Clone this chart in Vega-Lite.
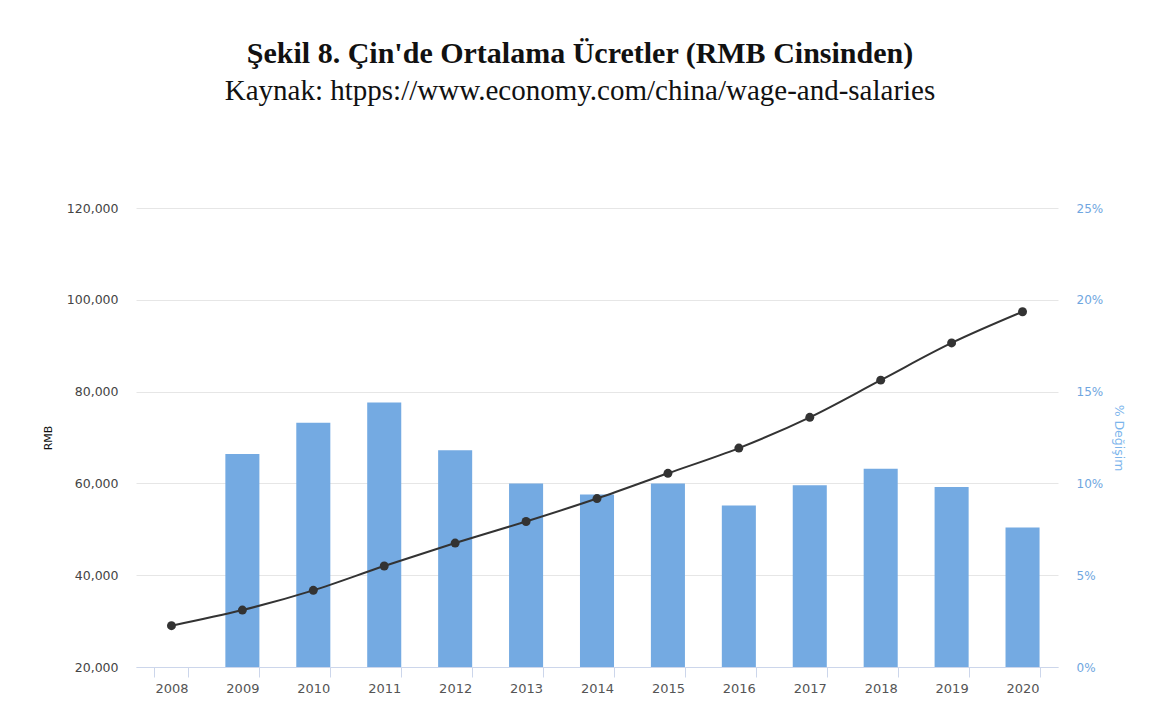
{
  "$schema": "https://vega.github.io/schema/vega-lite/v6.json",
  "width": 922,
  "height": 459,
  "autosize": {"type": "none"},
  "padding": {"left": 136, "top": 208, "right": 104, "bottom": 50},
  "background": "white",
  "title": {
    "text": "Şekil 8. Çin'de Ortalama Ücretler (RMB Cinsinden)",
    "subtitle": "Kaynak: htpps://www.economy.com/china/wage-and-salaries",
    "font": "Liberation Serif",
    "fontSize": 30,
    "fontWeight": "bold",
    "color": "#111111",
    "subtitleFont": "Liberation Serif",
    "subtitleFontSize": 29,
    "subtitleColor": "#111111",
    "subtitlePadding": 8,
    "anchor": "middle",
    "dx": -17,
    "offset": 96
  },
  "data": {
    "values": [
      {"year": "2008", "rmb": 29000, "pct": null},
      {"year": "2009", "rmb": 32400, "pct": 11.6},
      {"year": "2010", "rmb": 36700, "pct": 13.3},
      {"year": "2011", "rmb": 42000, "pct": 14.4},
      {"year": "2012", "rmb": 47000, "pct": 11.8},
      {"year": "2013", "rmb": 51700, "pct": 10.0},
      {"year": "2014", "rmb": 56700, "pct": 9.4},
      {"year": "2015", "rmb": 62200, "pct": 10.0},
      {"year": "2016", "rmb": 67700, "pct": 8.8},
      {"year": "2017", "rmb": 74400, "pct": 9.9},
      {"year": "2018", "rmb": 82500, "pct": 10.8},
      {"year": "2019", "rmb": 90600, "pct": 9.8},
      {"year": "2020", "rmb": 97400, "pct": 7.6}
    ]
  },
  "encoding": {
    "x": {
      "field": "year",
      "type": "ordinal",
      "scale": {"paddingInner": 0.52, "paddingOuter": 0.26},
      "axis": {
        "title": null,
        "labelAngle": 0,
        "labelFont": "DejaVu Sans",
        "labelFontSize": 13,
        "labelColor": "#555555",
        "labelPadding": 5,
        "domainColor": "#ccd6eb",
        "tickColor": "#ccd6eb",
        "tickSize": 10,
        "tickBand": "extent",
        "grid": false
      }
    }
  },
  "layer": [
    {
      "mark": {"type": "bar", "color": "#74aae2"},
      "encoding": {
        "y": {
          "field": "pct",
          "type": "quantitative",
          "scale": {"domain": [0, 25], "nice": false},
          "axis": {
            "orient": "right",
            "title": "% Değişim",
            "titleFont": "DejaVu Sans",
            "titleFontSize": 12.5,
            "titleFontWeight": "normal",
            "titleColor": "#7cb5ec",
            "titleAngle": 90,
            "titlePadding": 9,
            "values": [0, 5, 10, 15, 20, 25],
            "labelExpr": "datum.value + '%'",
            "labelFont": "DejaVu Sans",
            "labelFontSize": 12,
            "labelColor": "#6fa6e0",
            "labelPadding": 18,
            "domain": false,
            "ticks": false,
            "grid": false
          }
        }
      }
    },
    {
      "mark": {
        "type": "line",
        "color": "#333333",
        "strokeWidth": 2,
        "interpolate": "monotone",
        "point": {"filled": true, "color": "#333333", "size": 80, "opacity": 1}
      },
      "encoding": {
        "y": {
          "field": "rmb",
          "type": "quantitative",
          "scale": {"domain": [20000, 120000], "nice": false},
          "axis": {
            "orient": "left",
            "title": "RMB",
            "titleFont": "DejaVu Sans",
            "titleFontSize": 11,
            "titleFontWeight": "normal",
            "titleColor": "#111111",
            "titlePadding": 13,
            "values": [20000, 40000, 60000, 80000, 100000, 120000],
            "format": ",d",
            "labelFont": "DejaVu Sans",
            "labelFontSize": 12.5,
            "labelColor": "#444444",
            "labelPadding": 18,
            "domain": false,
            "ticks": false,
            "grid": true,
            "gridColor": "#e6e6e6",
            "gridWidth": 1
          }
        }
      }
    }
  ],
  "resolve": {"scale": {"y": "independent"}},
  "config": {"view": {"stroke": null}}
}
